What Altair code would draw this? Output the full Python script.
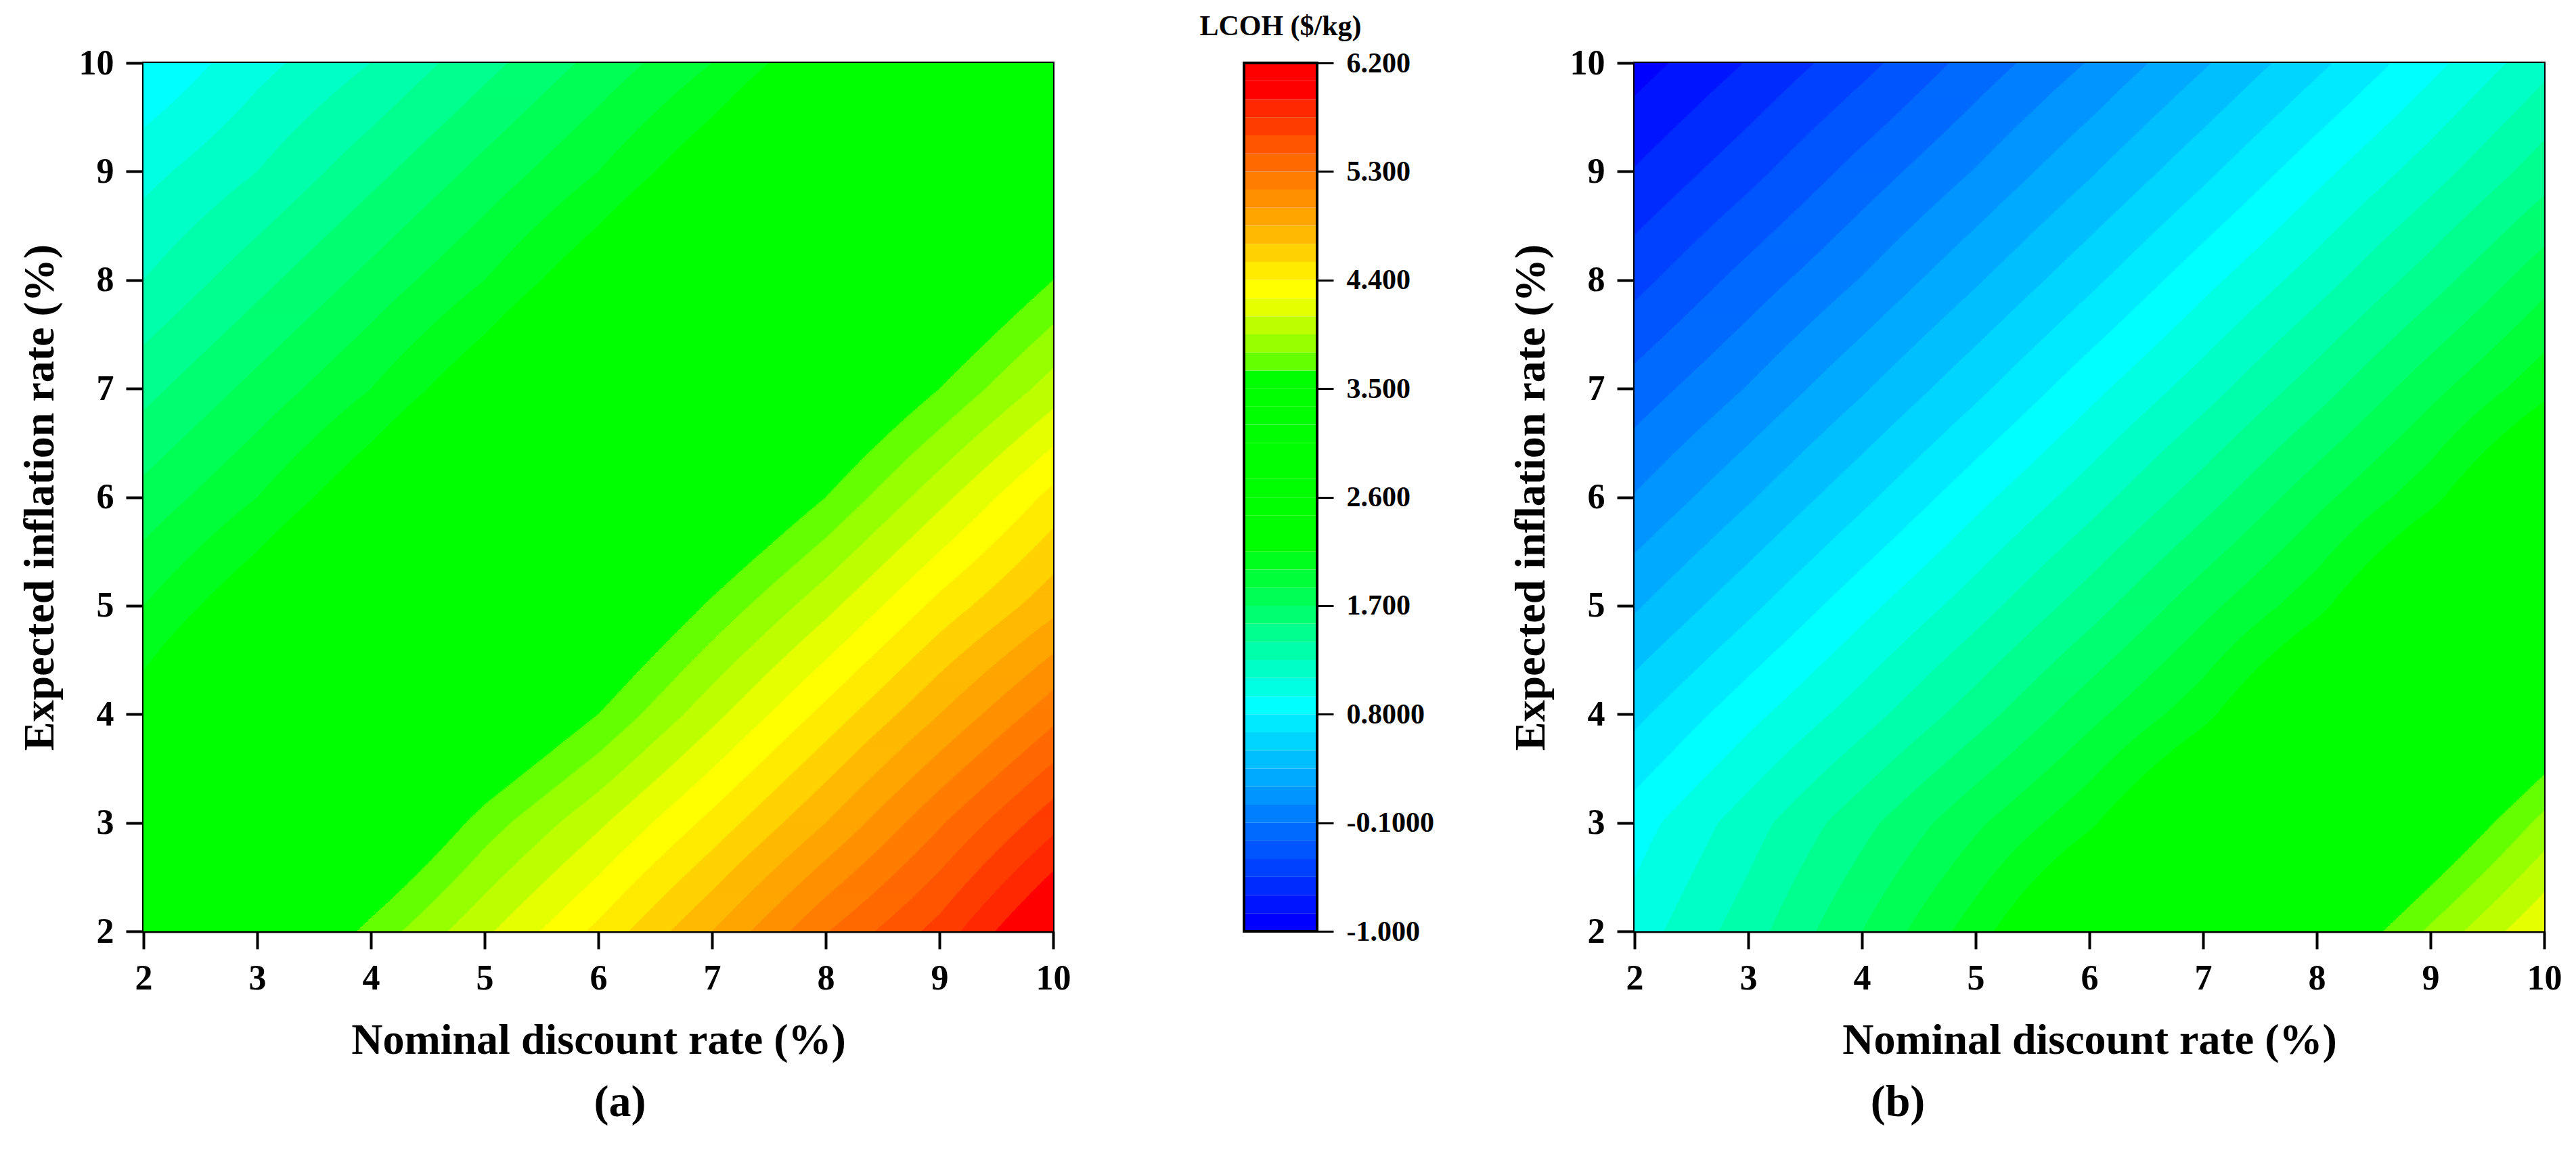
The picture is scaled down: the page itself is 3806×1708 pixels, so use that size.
import numpy as np
import pandas as pd
import altair as alt

FONT = "Liberation Serif"

# ---------------- data ----------------
discount_rates = [2, 3, 4, 5, 6, 7, 8, 9, 10]     # x (Nominal discount rate, %)
inflation_rates = [2, 3, 4, 5, 6, 7, 8, 9, 10]    # y (Expected inflation rate, %)

# LCOH ($/kg); rows = inflation 2..10, columns = discount 2..10
lcoh_a = [
    [3.00, 3.30, 3.70, 4.07, 4.44, 4.85, 5.29, 5.66, 6.15],   # i = 2
    [2.65, 3.00, 3.30, 3.72, 4.07, 4.45, 4.85, 5.28, 5.70],   # i = 3
    [2.25, 2.65, 3.00, 3.30, 3.65, 4.05, 4.45, 4.85, 5.25],   # i = 4
    [2.00, 2.30, 2.65, 3.00, 3.30, 3.68, 4.05, 4.45, 4.80],   # i = 5
    [1.75, 2.00, 2.30, 2.65, 3.00, 3.30, 3.65, 4.05, 4.45],   # i = 6
    [1.50, 1.75, 2.00, 2.30, 2.65, 3.00, 3.30, 3.65, 4.02],   # i = 7
    [1.25, 1.50, 1.75, 2.00, 2.30, 2.65, 3.00, 3.30, 3.65],   # i = 8
    [1.05, 1.25, 1.50, 1.75, 2.00, 2.30, 2.65, 3.00, 3.30],   # i = 9
    [0.80, 1.05, 1.25, 1.50, 1.75, 2.00, 2.30, 2.65, 3.00],   # i = 10
]
lcoh_b = [
    [1.02, 1.33, 1.70, 2.08, 2.52, 2.96, 3.40, 3.83, 4.24],   # i = 2
    [0.88, 1.18, 1.50, 1.82, 2.12, 2.52, 2.96, 3.40, 3.85],   # i = 3
    [0.61, 0.90, 1.18, 1.48, 1.80, 2.10, 2.52, 2.96, 3.40],   # i = 4
    [0.33, 0.61, 0.90, 1.18, 1.48, 1.80, 2.10, 2.52, 2.96],   # i = 5
    [0.06, 0.33, 0.61, 0.90, 1.18, 1.48, 1.80, 2.10, 2.52],   # i = 6
    [-0.19, 0.06, 0.33, 0.61, 0.90, 1.18, 1.48, 1.80, 2.10],  # i = 7
    [-0.45, -0.19, 0.06, 0.33, 0.61, 0.90, 1.18, 1.48, 1.80], # i = 8
    [-0.69, -0.45, -0.19, 0.06, 0.33, 0.61, 0.90, 1.18, 1.48],# i = 9
    [-0.92, -0.69, -0.45, -0.19, 0.06, 0.33, 0.61, 0.90, 1.20],# i = 10
]

# contour levels and their colours (as in the colour bar)
level_min = -1.0
level_max = 6.2
level_step = 0.15
band_colors = [
    "#0000ff", "#0015ff", "#002bff", "#0040ff", "#0055ff", "#006aff",
    "#0080ff", "#0095ff", "#00aaff", "#00bfff", "#00d5ff", "#00eaff",
    "#00ffff", "#00ffe3", "#00ffc6", "#00ffaa", "#00ff8e", "#00ff71",
    "#00ff55", "#00ff39", "#00ff1c",
    "#00ff00", "#00ff00", "#00ff00", "#00ff00", "#00ff00",
    "#00ff00", "#00ff00", "#00ff00", "#00ff00", "#00ff00",
    "#64ff00", "#96ff00", "#beff00", "#e6ff00", "#ffff00",
    "#ffeb00", "#ffd200", "#ffb900", "#ffa500", "#ff9100", "#ff7d00",
    "#ff6900", "#ff5500", "#ff3c00", "#ff2800", "#ff0000", "#ff0000",
]
n_bands = len(band_colors)
band_ids = list(range(n_bands))

cb_tick_values = [-1.0, -0.1, 0.8, 1.7, 2.6, 3.5, 4.4, 5.3, 6.2]
cb_tick_labels = ["-1.000", "-0.1000", "0.8000", "1.700", "2.600",
                  "3.500", "4.400", "5.300", "6.200"]

x_title = "Nominal discount rate (%)"
y_title = "Expected inflation rate (%)"
cb_title = "LCOH ($/kg)"
panel_labels = ["(a)", "(b)"]


# ---------------- filled-contour rendering of the grids ----------------
def contour_runs(grid, nrow=640, ncol=1600):
    G = np.asarray(grid, dtype=float)
    xr = np.asarray(discount_rates, dtype=float)
    yr = np.asarray(inflation_rates, dtype=float)
    x_lo, x_hi = xr[0], xr[-1]
    y_lo, y_hi = yr[0], yr[-1]
    dx = (x_hi - x_lo) / ncol
    dy = (y_hi - y_lo) / nrow
    xc = x_lo + (np.arange(ncol) + 0.5) * dx
    ovx, ovy = dx * 1.5, dy * 0.5
    recs = []
    for j in range(nrow):
        y0 = y_lo + j * dy
        yc = y0 + dy / 2
        iy = int(np.clip(np.searchsorted(yr, yc) - 1, 0, len(yr) - 2))
        ty = (yc - yr[iy]) / (yr[iy + 1] - yr[iy])
        rowv = G[iy] * (1 - ty) + G[iy + 1] * ty
        v = np.interp(xc, xr, rowv)
        band = np.clip(np.floor((v - level_min) / level_step + 1e-9), 0, n_bands - 1).astype(int)
        cp = np.flatnonzero(np.diff(band)) + 1
        starts = np.concatenate([[0], cp])
        ends = np.concatenate([cp, [ncol]])
        y1 = min(y0 + dy + ovy, y_hi)
        for s, e in zip(starts, ends):
            recs.append((round(x_lo + s * dx, 4),
                         round(min(x_lo + e * dx + ovx, x_hi), 4),
                         round(y0, 4), round(y1, 4), int(band[s])))
    return pd.DataFrame(recs, columns=["x0", "x1", "y0", "y1", "band"])


color_enc = alt.Color("band:O", scale=alt.Scale(domain=band_ids, range=band_colors), legend=None)

PW, PH = 1344, 1283


def panel(grid, label, label_dx):
    df = contour_runs(grid)
    return alt.Chart(df).mark_rect(strokeWidth=0).encode(
        x=alt.X("x0:Q",
                scale=alt.Scale(domain=[discount_rates[0], discount_rates[-1]], nice=False, zero=False),
                axis=alt.Axis(values=discount_rates, format="d", title=x_title,
                              labelFlush=False, labelOverlap=False, titlePadding=34)),
        x2="x1:Q",
        y=alt.Y("y0:Q",
                scale=alt.Scale(domain=[inflation_rates[0], inflation_rates[-1]], nice=False, zero=False),
                axis=alt.Axis(values=inflation_rates, format="d", title=y_title,
                              labelFlush=False, labelOverlap=False, titlePadding=25)),
        y2="y1:Q",
        color=color_enc,
    ).properties(
        width=PW, height=PH,
        title=alt.TitleParams(label, orient="bottom", anchor="middle", dx=label_dx,
                              offset=28, fontSize=66),
    )


chart_a = panel(lcoh_a, panel_labels[0], 32)
chart_b = panel(lcoh_b, panel_labels[1], -283)

# ---------------- colour bar ----------------
edges = [level_min + k * level_step for k in range(n_bands + 1)]
cb_df = pd.DataFrame({"lo": edges[:-1], "hi": edges[1:], "band": band_ids})
cb_y_scale = alt.Scale(domain=[level_min, level_max], nice=False, zero=False)
label_expr = " : ".join(
    f"abs(datum.value - ({v})) < 0.001 ? '{t}'" for v, t in zip(cb_tick_values, cb_tick_labels)
) + " : ''"

CBW = 108       # bar width in px
CB_VIEW_W = 295
bars = alt.Chart(cb_df).mark_rect(strokeWidth=0).encode(
    x=alt.value(0), x2=alt.value(CBW),
    y=alt.Y("lo:Q", scale=cb_y_scale,
            axis=alt.Axis(orient="right", values=cb_tick_values, labelExpr=label_expr,
                          offset=-(CB_VIEW_W - CBW), domain=False, tickSize=24, tickWidth=3,
                          labelFontSize=42, labelPadding=19, title=None,
                          labelFlush=False, labelOverlap=False)),
    y2="hi:Q",
    color=color_enc,
)
frame_df = pd.DataFrame({"lo": [level_min], "hi": [level_max]})
frame = alt.Chart(frame_df).mark_rect(fillOpacity=0, stroke="black", strokeWidth=4).encode(
    x=alt.value(0), x2=alt.value(CBW),
    y=alt.Y("lo:Q", scale=cb_y_scale),
    y2="hi:Q",
)
colorbar = alt.layer(bars, frame).properties(
    width=CB_VIEW_W, height=PH,
    view=alt.ViewBackground(stroke=None),
    title=alt.TitleParams(cb_title, anchor="middle", dx=-(CB_VIEW_W / 2 - CBW / 2),
                          frame="group", offset=11, fontSize=42),
)

chart = alt.hconcat(chart_a, colorbar, chart_b, spacing=282, bounds="flush").properties(
    padding={"left": 17, "top": 10, "right": 5, "bottom": 5},
).configure_view(
    stroke="black", strokeWidth=4,
).configure_axis(
    domainColor="black", domainWidth=4, tickColor="black", tickWidth=4, tickSize=26,
    labelFont=FONT, labelFontWeight="bold", labelFontSize=52, labelColor="black",
    labelPadding=18, titleFont=FONT, titleFontWeight="bold", titleFontSize=64,
    titleColor="black", grid=False,
).configure_title(
    font=FONT, fontWeight="bold", color="black",
)

chart.save("out.html", embed_options={"renderer": "svg", "actions": False})
